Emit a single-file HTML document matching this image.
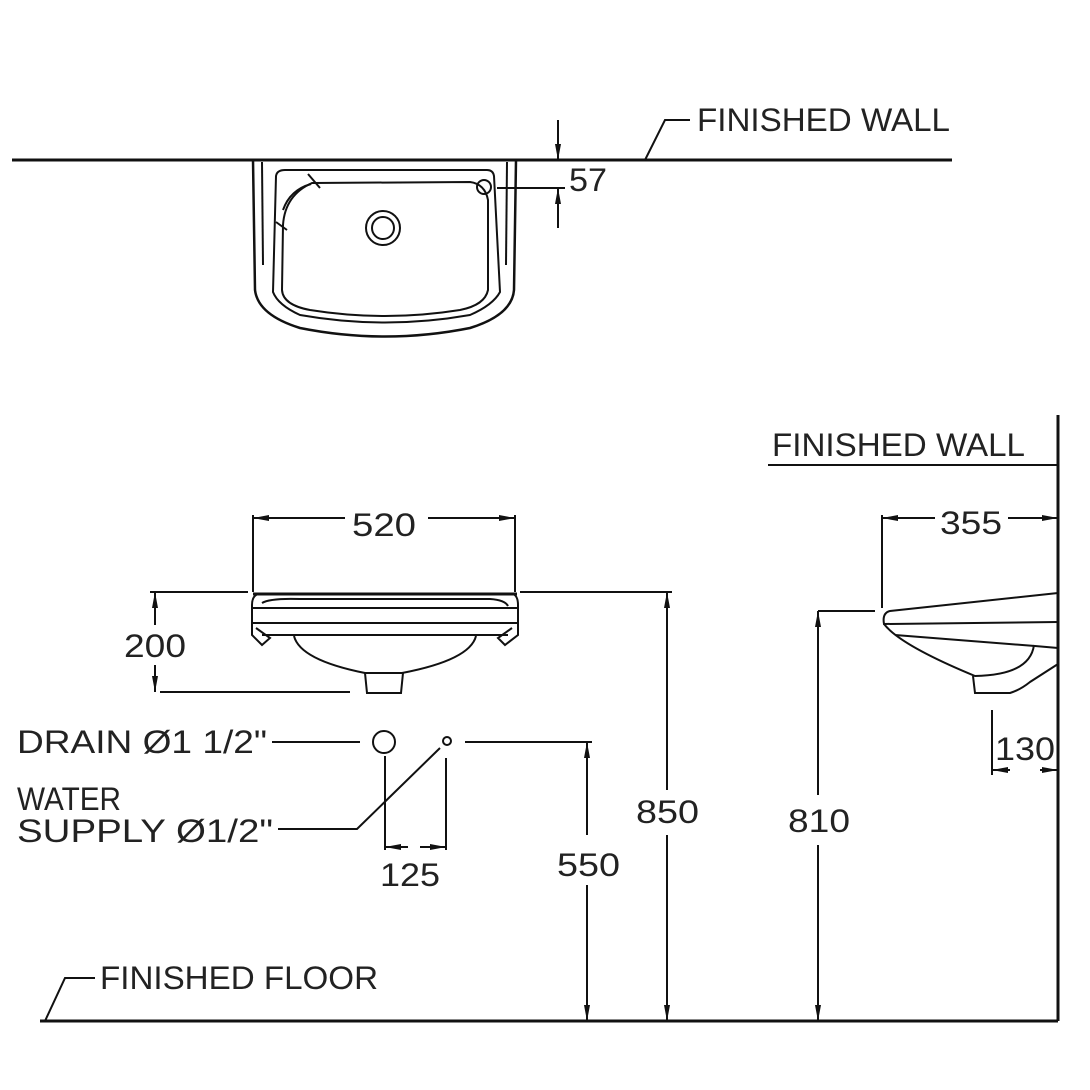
<!DOCTYPE html>
<html><head><meta charset="utf-8"><style>
html,body{margin:0;padding:0;background:#fff}
svg{display:block}
text{font-family:"Liberation Sans",sans-serif;font-size:32px;fill:#222}
</style></head><body>
<svg width="1090" height="1090" viewBox="0 0 1090 1090" xmlns="http://www.w3.org/2000/svg">
<defs>
<marker id="a" viewBox="0 0 16 8" refX="16" refY="4" markerWidth="16" markerHeight="8" markerUnits="userSpaceOnUse" orient="auto-start-reverse"><path d="M0,1 L16,4 L0,7 Z" fill="#111"/></marker>
</defs>
<g fill="none" stroke="#111" stroke-width="2">
<line x1="12" y1="160" x2="952" y2="160" stroke-width="3"/>
<polyline points="690,120 665,120 645,160"/>
<path d="M253,160 L255,290 Q258,315 300,328 Q385,345 470,328 Q512,315 514,290 L516,160" stroke-width="2.5"/>
<path d="M262,162 L263,265"/>
<path d="M507,162 L506,265"/>
<path d="M273,292 L276,176 Q277,170 285,170 L487,170 Q493,170 494,176 L500,292 Q493,305 470,315 Q385,330 300,315 Q278,305 273,292Z"/>
<path d="M312,183 L470,182 Q485,184 488,200 L488,290 Q485,305 460,310 Q385,322 310,310 Q283,305 282,290 L283,225 Q285,195 312,183Z"/>
<path d="M308,174 L320,188 M276,222 L287,230 M283,210 Q290,190 311,184"/>
<circle cx="383" cy="228" r="17"/><circle cx="383" cy="228" r="11"/>
<circle cx="484" cy="187" r="7"/>
<line x1="497" y1="188" x2="565" y2="188"/>
<line x1="558" y1="120" x2="558" y2="160" marker-end="url(#a)"/>
<line x1="558" y1="228" x2="558" y2="188" marker-end="url(#a)"/>
<path d="M258,594 L513,594 Q518,596 518,605 L518,635 L505,645 L498,638 L512,628 M258,594 Q252,596 252,605 L252,635 L262,645 L270,638 L256,628" />
<line x1="253" y1="594" x2="517" y2="594" stroke-width="3"/>
<path d="M262,603 Q270,598 300,599 L490,599 Q505,600 508,606"/>
<line x1="253" y1="608" x2="517" y2="608"/>
<line x1="253" y1="623" x2="517" y2="623"/>
<line x1="262" y1="635" x2="508" y2="635"/>
<path d="M294,636 Q300,660 365,673 L402,673 Q470,660 476,636"/>
<path d="M365,673 L367,693 L401,693 L403,673"/>
<line x1="253" y1="515" x2="253" y2="592"/><line x1="515" y1="515" x2="515" y2="592"/>
<line x1="345" y1="518" x2="253" y2="518" marker-end="url(#a)"/>
<line x1="428" y1="518" x2="515" y2="518" marker-end="url(#a)"/>
<line x1="150" y1="592" x2="248" y2="592"/><line x1="160" y1="692" x2="350" y2="692"/>
<line x1="155" y1="625" x2="155" y2="592" marker-end="url(#a)"/>
<line x1="155" y1="665" x2="155" y2="692" marker-end="url(#a)"/>
<line x1="520" y1="592" x2="672" y2="592"/>
<line x1="667" y1="790" x2="667" y2="592" marker-end="url(#a)"/>
<line x1="667" y1="835" x2="667" y2="1021" marker-end="url(#a)"/>
<line x1="272" y1="742" x2="360" y2="742"/>
<circle cx="384" cy="742" r="11"/>
<circle cx="447" cy="741" r="4"/>
<line x1="465" y1="742" x2="592" y2="742"/>
<polyline points="278,829 357,829 440,748"/>
<line x1="385" y1="756" x2="385" y2="850"/><line x1="446" y1="758" x2="446" y2="850"/>
<line x1="408" y1="847" x2="385" y2="847" marker-end="url(#a)"/>
<line x1="420" y1="847" x2="446" y2="847" marker-end="url(#a)"/>
<line x1="587" y1="835" x2="587" y2="742" marker-end="url(#a)"/>
<line x1="587" y1="885" x2="587" y2="1021" marker-end="url(#a)"/>
<line x1="40" y1="1021" x2="1058" y2="1021" stroke-width="3"/>
<polyline points="95,978 65,978 45,1021"/>
<line x1="1058" y1="415" x2="1058" y2="1021" stroke-width="3"/>
<line x1="768" y1="465" x2="1058" y2="465"/>
<line x1="882" y1="515" x2="882" y2="608"/>
<line x1="935" y1="518" x2="882" y2="518" marker-end="url(#a)"/>
<line x1="1008" y1="518" x2="1058" y2="518" marker-end="url(#a)"/>
<path d="M1058,593 L890,611 Q882,613 884,624 L1058,622"/>
<path d="M895,635 L1035,646 L1058,648"/>
<path d="M884,624 Q900,645 975,676 Q1030,675 1034,645"/>
<path d="M973,676 L975,693 L1010,693 Q1020,690 1030,682 L1058,664"/>
<line x1="818" y1="611" x2="875" y2="611"/>
<line x1="818" y1="795" x2="818" y2="611" marker-end="url(#a)"/>
<line x1="818" y1="845" x2="818" y2="1021" marker-end="url(#a)"/>
<line x1="992" y1="710" x2="992" y2="775"/>
<line x1="1010" y1="770" x2="992" y2="770" marker-end="url(#a)"/>
<line x1="1040" y1="770" x2="1058" y2="770" marker-end="url(#a)"/>
</g>
<g>
<text x="697" y="131" textLength="253" lengthAdjust="spacingAndGlyphs">FINISHED  WALL</text>
<text x="569" y="191" textLength="38" lengthAdjust="spacingAndGlyphs">57</text>
<text x="772" y="456" textLength="253" lengthAdjust="spacingAndGlyphs">FINISHED  WALL</text>
<text x="352" y="536" textLength="64" lengthAdjust="spacingAndGlyphs">520</text>
<text x="940" y="534" textLength="62" lengthAdjust="spacingAndGlyphs">355</text>
<text x="124" y="657" textLength="62" lengthAdjust="spacingAndGlyphs">200</text>
<text x="17" y="753" textLength="250" lengthAdjust="spacingAndGlyphs">DRAIN  Ø1  1/2"</text>
<text x="17" y="810" textLength="104" lengthAdjust="spacingAndGlyphs">WATER</text>
<text x="17" y="842" textLength="256" lengthAdjust="spacingAndGlyphs">SUPPLY  Ø1/2"</text>
<text x="380" y="886" textLength="60" lengthAdjust="spacingAndGlyphs">125</text>
<text x="557" y="876" textLength="63" lengthAdjust="spacingAndGlyphs">550</text>
<text x="636" y="823" textLength="63" lengthAdjust="spacingAndGlyphs">850</text>
<text x="788" y="832" textLength="62" lengthAdjust="spacingAndGlyphs">810</text>
<text x="995" y="760" textLength="60" lengthAdjust="spacingAndGlyphs">130</text>
<text x="100" y="989" textLength="278" lengthAdjust="spacingAndGlyphs">FINISHED  FLOOR</text>
</g>
</svg>
</body></html>
